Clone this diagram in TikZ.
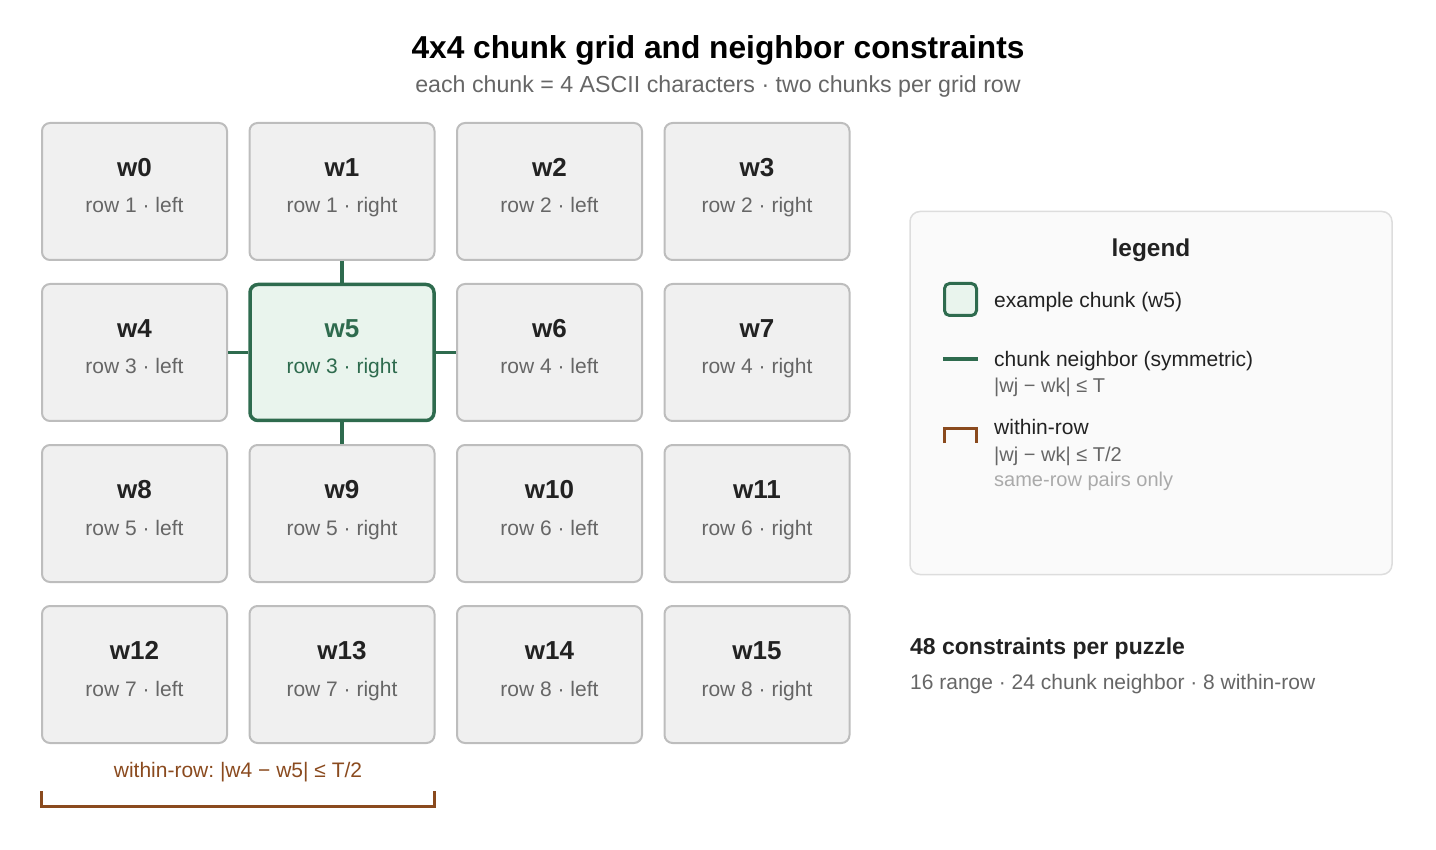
\documentclass[tikz,border=0pt]{standalone}
\usepackage{fontspec}
\setmainfont{Liberation Sans}
\frenchspacing
\definecolor{boxfill}{HTML}{F0F0F0}
\definecolor{boxline}{HTML}{BDBDBD}
\definecolor{grn}{HTML}{2E6B4E}
\definecolor{grnfill}{HTML}{E9F4ED}
\definecolor{brn}{HTML}{8A4A1E}
\definecolor{txt}{HTML}{222222}
\definecolor{gtxt}{HTML}{666666}
\definecolor{ltxt}{HTML}{AAAAAA}
\definecolor{legfill}{HTML}{FAFAFA}
\definecolor{legline}{HTML}{DDDDDD}
\tikzset{
  chunk/.style={draw=boxline, fill=boxfill, line width=2pt, rounded corners=8pt,
    minimum width=185pt, minimum height=137pt, inner sep=0pt},
  hichunk/.style={chunk, draw=grn, fill=grnfill, line width=3.5pt,
    minimum width=184pt, minimum height=136pt},
  cname/.style={anchor=base, inner sep=0pt, text=txt, font=\fontsize{26}{30}\selectfont\bfseries},
  csub/.style={anchor=base, inner sep=0pt, text=gtxt, font=\fontsize{21}{25}\selectfont},
  conn/.style={draw=grn, line width=3.5pt},
  bracket/.style={draw=brn, line width=3pt},
  ltext/.style={anchor=base west, inner sep=0pt, text=txt, font=\fontsize{21}{25}\selectfont},
  lsub/.style={anchor=base west, inner sep=0pt, text=gtxt, font=\fontsize{20}{24}\selectfont},
}
\begin{document}
\begin{tikzpicture}[x=1pt,y=-1pt]
\useasboundingbox (0,0) rectangle (1436,850);
% title
\node[anchor=base, inner sep=0pt, text=black, font=\fontsize{31.7}{36}\selectfont\bfseries] (title) at (718,59) {4x4 chunk grid and neighbor constraints};
\node[anchor=base, inner sep=0pt, text=gtxt, font=\fontsize{23.2}{27}\selectfont] (subtitle) at (718,93) {each chunk = 4 ASCII characters · two chunks per grid row};
% grid
\foreach \i in {0,...,15} {
  \pgfmathtruncatemacro{\c}{mod(\i,4)}
  \pgfmathtruncatemacro{\r}{div(\i,4)}
  \pgfmathtruncatemacro{\gr}{div(\i,2)+1}
  \pgfmathsetmacro{\cx}{134.5+207.5*\c}
  \pgfmathsetmacro{\cy}{191.5+161*\r}
  \ifnum\i=5
    \node[hichunk] (b\i) at (\cx,\cy) {};
    \node[cname, text=grn] (n\i) at (\cx,\cy-15) {w\i};
    \node[csub, text=grn] (s\i) at (\cx,\cy+21.5) {row \gr\ · \ifodd\i right\else left\fi};
  \else
    \node[chunk] (b\i) at (\cx,\cy) {};
    \node[cname] (n\i) at (\cx,\cy-15) {w\i};
    \node[csub] (s\i) at (\cx,\cy+21.5) {row \gr\ · \ifodd\i right\else left\fi};
  \fi
}
% neighbor connectors
\draw[conn] (b1.south) -- (b5.north);
\draw[conn] (b5.south) -- (b9.north);
\draw[conn] (b4.east) -- (b5.west);
\draw[conn] (b5.east) -- (b6.west);
% bottom within-row bracket
\node[anchor=base, inner sep=0pt, text=brn, font=\fontsize{21}{25}\selectfont] (wrlabel) at (238,777.5) {within-row: |w4 − w5| ≤ T/2};
\coordinate (brL) at (41.5,791);
\coordinate (brR) at (434.5,791);
\draw[bracket] (brL) -- ++(0,15.5) -| (brR);
% legend
\node[draw=legline, fill=legfill, line width=1.5pt, rounded corners=10pt, minimum width=482pt, minimum height=363pt, inner sep=0pt] (legend) at (1151,393) {};
\node[anchor=base, inner sep=0pt, text=txt, font=\fontsize{24.4}{28}\selectfont\bfseries] (legtitle) at (1151,257) {legend};
\node[draw=grn, fill=grnfill, line width=3pt, rounded corners=5pt, minimum width=32pt, minimum height=32pt, inner sep=0pt] (legsq) at (960.5,299.5) {};
\node[ltext] (l1) at (994,308) {example chunk (w5)};
\coordinate (lnA) at (943,359);
\coordinate (lnB) at (978,359);
\draw[conn] (lnA) -- (lnB);
\node[ltext] (l2) at (994,366.5) {chunk neighbor (symmetric)};
\node[lsub] (l2b) at (994,392.5) {|wj − wk| ≤ T};
\coordinate (lbA) at (944.5,443);
\coordinate (lbB) at (976.5,443);
\draw[bracket] (lbA) -- ++(0,-15) -| (lbB);
\node[ltext] (l3) at (994,435) {within-row};
\node[lsub] (l3b) at (994,461) {|wj − wk| ≤ T/2};
\node[lsub, text=ltxt] (l3c) at (994,486) {same-row pairs only};
% summary
\node[anchor=base west, inner sep=0pt, text=txt, font=\fontsize{23}{27}\selectfont\bfseries] (sum1) at (910,654.3) {48 constraints per puzzle};
\node[anchor=base west, inner sep=0pt, text=gtxt, font=\fontsize{21}{25}\selectfont] (sum2) at (910,689.3) {16 range · 24 chunk neighbor · 8 within-row};
\end{tikzpicture}
\end{document}
